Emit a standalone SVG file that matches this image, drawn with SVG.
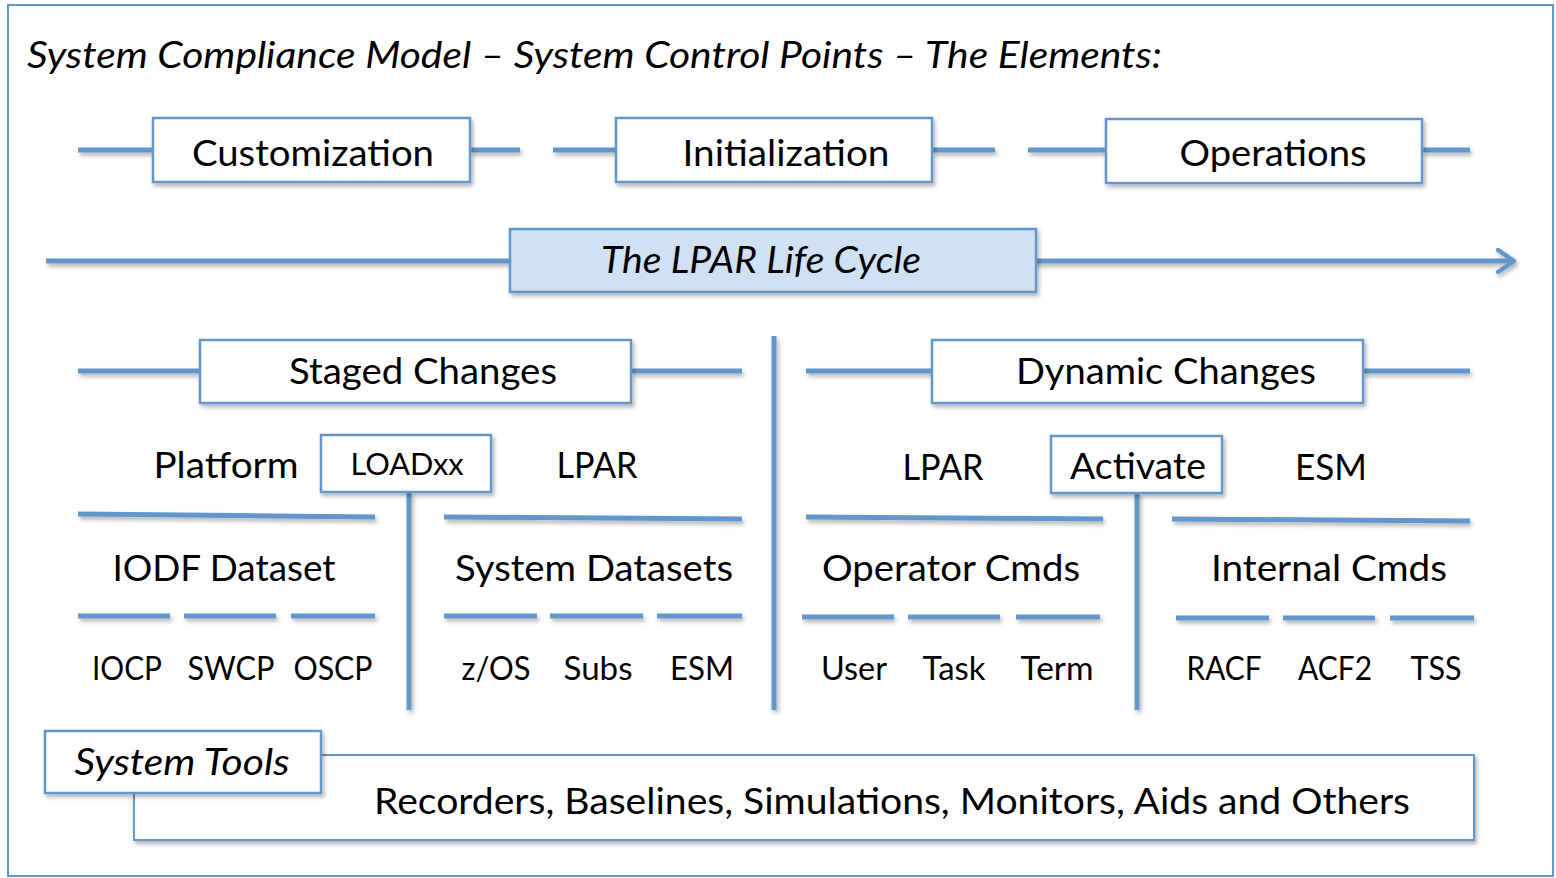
<svg xmlns="http://www.w3.org/2000/svg" width="1556" height="878" viewBox="0 0 1556 878">
  <defs>
    <filter id="shadow" x="-10%" y="-30%" width="120%" height="170%">
      <feDropShadow dx="2" dy="3" stdDeviation="2" flood-color="#000" flood-opacity="0.3"/>
    </filter>
    <marker id="chevron" viewBox="0 0 22 28" refX="19" refY="14" markerWidth="22" markerHeight="28" markerUnits="userSpaceOnUse" orient="auto">
      <path d="M3,3 L19,14 L3,25" fill="none" stroke="#6396cb" stroke-width="4.5" stroke-linecap="round" stroke-linejoin="round"/>
    </marker>
    <style>
      .t { font-family: Lato, "Open Sans", "Liberation Sans", sans-serif; fill: #000; text-anchor: middle; }
      .it { font-style: italic; }
      .box { fill: #fff; stroke: #6396cb; stroke-width: 2.5; }
      .blue { fill: #d0e1f3; }
      .ln { stroke: #6396cb; stroke-width: 5; fill: none; }
      .thin { stroke: #6396cb; stroke-width: 2; fill: #fff; }
    </style>
  </defs>

  <rect width="1556" height="878" fill="#fff"/>
  <!-- outer frame -->
  <rect x="8" y="5" width="1545" height="871" fill="none" stroke="#6396cb" stroke-width="2"/>

  <text class="t it" x="27" y="68" font-size="36" style="text-anchor:start" textLength="1135" lengthAdjust="spacingAndGlyphs">System Compliance Model – System Control Points – The Elements:</text>

  <!-- connector lines -->
  <g id="connectors" filter="url(#shadow)">
    <line class="ln" x1="78" y1="150" x2="153" y2="150"/>
    <line class="ln" x1="470" y1="150" x2="520" y2="150"/>
    <line class="ln" x1="553" y1="150" x2="616" y2="150"/>
    <line class="ln" x1="932" y1="150" x2="995" y2="150"/>
    <line class="ln" x1="1028" y1="150" x2="1106" y2="150"/>
    <line class="ln" x1="1422" y1="150" x2="1470" y2="150"/>

    <line class="ln" x1="46" y1="261" x2="1514" y2="261" marker-end="url(#chevron)"/>

    <line class="ln" x1="78" y1="371" x2="200" y2="371"/>
    <line class="ln" x1="631" y1="371" x2="742" y2="371"/>
    <line class="ln" x1="806" y1="371" x2="932" y2="371"/>
    <line class="ln" x1="1363" y1="371" x2="1470" y2="371"/>

    <line class="ln" x1="774" y1="336" x2="774" y2="710"/>
    <line class="ln" x1="409" y1="492" x2="409" y2="710"/>
    <line class="ln" x1="1137" y1="493" x2="1137" y2="710"/>

    <line class="ln" x1="78" y1="514" x2="375" y2="517"/>
    <line class="ln" x1="444" y1="517" x2="742" y2="519"/>
    <line class="ln" x1="806" y1="517" x2="1103" y2="519"/>
    <line class="ln" x1="1172" y1="519" x2="1470" y2="521"/>

    <line class="ln" x1="78" y1="616" x2="170" y2="616"/>
    <line class="ln" x1="184" y1="616" x2="276" y2="616"/>
    <line class="ln" x1="291" y1="616" x2="375" y2="616"/>
    <line class="ln" x1="444" y1="616" x2="537" y2="616"/>
    <line class="ln" x1="550" y1="616" x2="643" y2="616"/>
    <line class="ln" x1="657" y1="616" x2="742" y2="616"/>

    <line class="ln" x1="802" y1="617" x2="894" y2="617"/>
    <line class="ln" x1="908" y1="617" x2="1000" y2="617"/>
    <line class="ln" x1="1016" y1="617" x2="1100" y2="617"/>
    <line class="ln" x1="1176" y1="618" x2="1269" y2="618"/>
    <line class="ln" x1="1283" y1="618" x2="1375" y2="618"/>
    <line class="ln" x1="1390" y1="618" x2="1474" y2="618"/>
  </g>

  <!-- life cycle phases -->
  <g id="customization">
    <rect class="box" x="153" y="118" width="317" height="64" filter="url(#shadow)"/>
    <text class="t" x="313" y="166" font-size="36" textLength="242" lengthAdjust="spacingAndGlyphs">Customization</text>
  </g>
  <g id="initialization">
    <rect class="box" x="616" y="118" width="316" height="64" filter="url(#shadow)"/>
    <text class="t" x="786" y="166" font-size="36" textLength="207" lengthAdjust="spacingAndGlyphs">Initialization</text>
  </g>
  <g id="operations">
    <rect class="box" x="1106" y="119" width="316" height="64" filter="url(#shadow)"/>
    <text class="t" x="1273" y="166" font-size="36" textLength="187" lengthAdjust="spacingAndGlyphs">Operations</text>
  </g>

  <g id="lifecycle">
    <rect class="box blue" x="510" y="229" width="526" height="63" filter="url(#shadow)"/>
    <text class="t it" x="761" y="273" font-size="36" textLength="320" lengthAdjust="spacingAndGlyphs">The LPAR Life Cycle</text>
  </g>

  <!-- staged changes -->
  <g id="staged">
    <rect class="box" x="200" y="340" width="431" height="63" filter="url(#shadow)"/>
    <text class="t" x="423" y="384" font-size="36" textLength="268" lengthAdjust="spacingAndGlyphs">Staged Changes</text>
  </g>
  <g id="platform">
    <text class="t" x="226" y="478" font-size="36" textLength="145" lengthAdjust="spacingAndGlyphs">Platform</text>
  </g>
  <g id="loadxx">
    <rect class="box" x="321" y="435" width="170" height="57" filter="url(#shadow)"/>
    <text class="t" x="407" y="475" font-size="30" textLength="113" lengthAdjust="spacingAndGlyphs">LOADxx</text>
  </g>
  <g id="lpar-staged">
    <text class="t" x="597" y="478" font-size="36" textLength="81" lengthAdjust="spacingAndGlyphs">LPAR</text>
  </g>
  <g id="iodf">
    <text class="t" x="224" y="581" font-size="36" textLength="223" lengthAdjust="spacingAndGlyphs">IODF Dataset</text>
    <text class="t" x="127" y="680" font-size="33" textLength="70" lengthAdjust="spacingAndGlyphs">IOCP</text>
    <text class="t" x="231" y="680" font-size="33" textLength="87" lengthAdjust="spacingAndGlyphs">SWCP</text>
    <text class="t" x="333" y="680" font-size="33" textLength="79" lengthAdjust="spacingAndGlyphs">OSCP</text>
  </g>
  <g id="sysdatasets">
    <text class="t" x="594" y="581" font-size="36" textLength="278" lengthAdjust="spacingAndGlyphs">System Datasets</text>
    <text class="t" x="496" y="680" font-size="33" textLength="69" lengthAdjust="spacingAndGlyphs">z/OS</text>
    <text class="t" x="598" y="680" font-size="33" textLength="69" lengthAdjust="spacingAndGlyphs">Subs</text>
    <text class="t" x="702" y="680" font-size="33" textLength="64" lengthAdjust="spacingAndGlyphs">ESM</text>
  </g>

  <!-- dynamic changes -->
  <g id="dynamic">
    <rect class="box" x="932" y="340" width="431" height="63" filter="url(#shadow)"/>
    <text class="t" x="1166" y="384" font-size="36" textLength="300" lengthAdjust="spacingAndGlyphs">Dynamic Changes</text>
  </g>
  <g id="lpar-dynamic">
    <text class="t" x="943" y="480" font-size="36" textLength="81" lengthAdjust="spacingAndGlyphs">LPAR</text>
  </g>
  <g id="activate">
    <rect class="box" x="1051" y="436" width="171" height="57" filter="url(#shadow)"/>
    <text class="t" x="1138" y="479" font-size="36" textLength="136" lengthAdjust="spacingAndGlyphs">Activate</text>
  </g>
  <g id="esm">
    <text class="t" x="1331" y="480" font-size="36" textLength="72" lengthAdjust="spacingAndGlyphs">ESM</text>
  </g>
  <g id="operator">
    <text class="t" x="951" y="581" font-size="36" textLength="258" lengthAdjust="spacingAndGlyphs">Operator Cmds</text>
    <text class="t" x="854" y="680" font-size="33" textLength="66" lengthAdjust="spacingAndGlyphs">User</text>
    <text class="t" x="954" y="680" font-size="33" textLength="63" lengthAdjust="spacingAndGlyphs">Task</text>
    <text class="t" x="1057" y="680" font-size="33" textLength="73" lengthAdjust="spacingAndGlyphs">Term</text>
  </g>
  <g id="internal">
    <text class="t" x="1329" y="581" font-size="36" textLength="236" lengthAdjust="spacingAndGlyphs">Internal Cmds</text>
    <text class="t" x="1224" y="680" font-size="33" textLength="75" lengthAdjust="spacingAndGlyphs">RACF</text>
    <text class="t" x="1335" y="680" font-size="33" textLength="74" lengthAdjust="spacingAndGlyphs">ACF2</text>
    <text class="t" x="1436" y="680" font-size="33" textLength="51" lengthAdjust="spacingAndGlyphs">TSS</text>
  </g>

  <!-- tools -->
  <g id="tools-list">
    <rect class="thin" x="134" y="755" width="1340" height="85" filter="url(#shadow)"/>
    <text class="t" x="892" y="814" font-size="36" textLength="1036" lengthAdjust="spacingAndGlyphs">Recorders, Baselines, Simulations, Monitors, Aids and Others</text>
  </g>
  <g id="system-tools">
    <rect class="box" x="45" y="731" width="276" height="62" filter="url(#shadow)"/>
    <text class="t it" x="182" y="775" font-size="36" textLength="215" lengthAdjust="spacingAndGlyphs">System Tools</text>
  </g>
</svg>
